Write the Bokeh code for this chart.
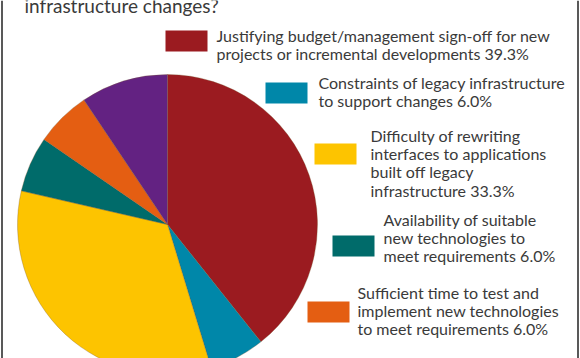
import math
from bokeh.plotting import figure
from bokeh.models import ColumnDataSource, Range1d
from bokeh.core.properties import value
from bokeh.embed import file_html
from bokeh.resources import INLINE

# ---- data ----
title_lines = ["infrastructure changes?"]
categories = [
    ["Justifying budget/management sign-off for new", "projects or incremental developments"],
    ["Constraints of legacy infrastructure", "to support changes"],
    ["Difficulty of rewriting", "interfaces to applications", "built off legacy", "infrastructure"],
    ["Availability of suitable", "new technologies to", "meet requirements"],
    ["Sufficient time to test and", "implement new technologies", "to meet requirements"],
    ["Availability of resources to support", "changes"],
]
shares = [39.3, 6.0, 33.3, 6.0, 6.0, 9.4]
colors = ["#9B1B20", "#0087A9", "#FDC400", "#006B6A", "#E45E12", "#632282"]

W, H = 580, 358
p = figure(width=W, height=H, output_backend="svg", toolbar_location=None,
           x_range=Range1d(0, W), y_range=Range1d(0, H), min_border=0)
p.axis.visible = False
p.grid.visible = False
p.outline_line_color = None
p.background_fill_color = "white"
p.border_fill_color = "white"

def fx(px):
    return px

def fy(py):
    return H - py

# ---- frame lines ----
p.segment(x0=[fx(1.5), fx(577.5)], y0=[0, 0], x1=[fx(1.5), fx(577.5)], y1=[H, H],
          line_color="#222222", line_width=1.5)

# ---- pie ----
total = sum(shares)
starts, ends = [], []
acc = 0.0
for s in shares:
    a0 = math.pi / 2 - 2 * math.pi * acc / total
    acc += s
    a1 = math.pi / 2 - 2 * math.pi * acc / total
    starts.append(a0)
    ends.append(a1)
pie = ColumnDataSource(dict(start=starts, end=ends, color=colors))
p.wedge(x=fx(167), y=fy(224), radius=150, start_angle="start", end_angle="end",
        direction="clock", fill_color="color", line_color="#7d5a30",
        line_alpha=0.45, line_width=0.7, source=pie)

# ---- legend ----
swatch_pos = [(165, 30), (265, 82), (314, 143), (332, 235), (307, 301), (250, 400)]
text_pos = [(216, 35), (318, 82), (370, 135), (383, 219), (357, 292), (291, 363)]
line_h = 18.2
sx, sy, tx, ty, tt = [], [], [], [], []
for i, lines in enumerate(categories):
    x0, y0 = swatch_pos[i]
    sx.append(fx(x0 + 21))
    sy.append(fy(y0 + 10.5))
    full = list(lines)
    full[-1] = full[-1] + " %.1f%%" % shares[i]
    for j, ln in enumerate(full):
        tx.append(fx(text_pos[i][0]))
        ty.append(fy(text_pos[i][1] + j * line_h))
        tt.append(ln)
p.rect(x=sx, y=sy, width=42, height=21, fill_color=colors, line_color=None)
p.text(x=tx, y=ty, text=tt, text_font=value("Lato"), text_font_size="16px",
       text_color="#3a3a3a", text_baseline="alphabetic", text_align="left")

# ---- title ----
p.text(x=[fx(24)], y=[fy(5)], text=title_lines, text_font=value("Lato"),
       text_font_size="19px", text_color="#3a3a3a", text_baseline="alphabetic")

open("out.html", "w").write(file_html(p, INLINE))
